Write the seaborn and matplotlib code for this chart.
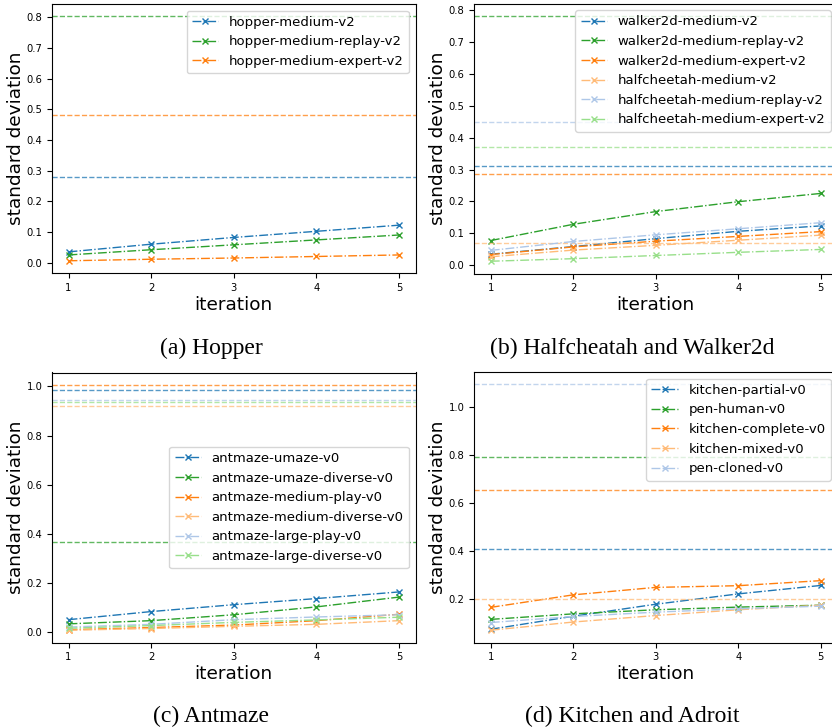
import matplotlib
matplotlib.use("Agg")
import matplotlib.pyplot as plt
import seaborn as sns

iterations = [1, 2, 3, 4, 5]

# (a) Hopper
hopper_names = ["hopper-medium-v2", "hopper-medium-replay-v2", "hopper-medium-expert-v2"]
hopper_curves = [
    [0.035, 0.060, 0.082, 0.102, 0.122],
    [0.025, 0.042, 0.058, 0.074, 0.090],
    [0.006, 0.011, 0.015, 0.020, 0.025],
]
hopper_refs = [0.280, 0.803, 0.480]

# (b) Halfcheetah and Walker2d
locomotion_names = [
    "walker2d-medium-v2", "walker2d-medium-replay-v2", "walker2d-medium-expert-v2",
    "halfcheetah-medium-v2", "halfcheetah-medium-replay-v2", "halfcheetah-medium-expert-v2",
]
locomotion_curves = [
    [0.034, 0.058, 0.083, 0.106, 0.123],
    [0.077, 0.128, 0.168, 0.199, 0.225],
    [0.033, 0.057, 0.075, 0.090, 0.105],
    [0.026, 0.047, 0.062, 0.078, 0.094],
    [0.046, 0.074, 0.095, 0.114, 0.133],
    [0.012, 0.020, 0.030, 0.040, 0.049],
]
locomotion_refs = [0.310, 0.783, 0.285, 0.070, 0.450, 0.370]

# (c) Antmaze
antmaze_names = [
    "antmaze-umaze-v0", "antmaze-umaze-diverse-v0", "antmaze-medium-play-v0",
    "antmaze-medium-diverse-v0", "antmaze-large-play-v0", "antmaze-large-diverse-v0",
]
antmaze_curves = [
    [0.050, 0.083, 0.111, 0.136, 0.163],
    [0.033, 0.046, 0.070, 0.102, 0.142],
    [0.009, 0.018, 0.028, 0.046, 0.072],
    [0.007, 0.014, 0.023, 0.031, 0.046],
    [0.020, 0.031, 0.050, 0.061, 0.070],
    [0.015, 0.026, 0.039, 0.049, 0.060],
]
antmaze_refs = [0.985, 0.366, 1.007, 0.919, 0.947, 0.935]

# (d) Kitchen and Adroit
kitchen_names = ["kitchen-partial-v0", "pen-human-v0", "kitchen-complete-v0",
                 "kitchen-mixed-v0", "pen-cloned-v0"]
kitchen_curves = [
    [0.076, 0.130, 0.180, 0.223, 0.258],
    [0.117, 0.140, 0.157, 0.168, 0.176],
    [0.167, 0.219, 0.250, 0.257, 0.278],
    [0.072, 0.106, 0.133, 0.157, 0.176],
    [0.104, 0.129, 0.147, 0.161, 0.172],
]
kitchen_refs = [0.408, 0.791, 0.656, 0.201, 1.094]

tab20 = sns.color_palette("tab20")
colors = [tab20[i] for i in [0, 4, 2, 3, 1, 5]]


def draw_panel(ax, names, curves, refs, legend_loc, yticks):
    for i, (name, vals, ref) in enumerate(zip(names, curves, refs)):
        c = colors[i]
        sns.lineplot(x=iterations, y=vals, ax=ax, color=c, marker="x",
                     linestyle="-.", linewidth=1.0, markersize=3.8,
                     markeredgewidth=1.0, markeredgecolor=c,
                     label=name, legend=False)
        ax.axhline(ref, color=c, linestyle="--", linewidth=1.0, alpha=0.75)
    ax.set_xticks(iterations)
    ax.set_yticks(yticks)
    ax.tick_params(labelsize=7.2)
    ax.set_xlabel("iteration", fontsize=13.3, labelpad=2)
    ax.set_ylabel("standard deviation", fontsize=13.3, labelpad=1)
    ax.legend(loc=legend_loc, fontsize=9.5)


fig = plt.figure(figsize=(8.32, 7.27), dpi=100)
W, H = 832.0, 727.0


def rect(left, top, width, height):
    return [left / W, 1 - (top + height) / H, width / W, height / H]


ax_a = fig.add_axes(rect(52, 4, 363.5, 269))
ax_b = fig.add_axes(rect(474.3, 3.5, 363, 270))
ax_c = fig.add_axes(rect(52, 372.5, 363.5, 270))
ax_d = fig.add_axes(rect(474.3, 372, 363, 270.5))

draw_panel(ax_a, hopper_names, hopper_curves, hopper_refs, "upper right",
           [0.0, 0.1, 0.2, 0.3, 0.4, 0.5, 0.6, 0.7, 0.8])
draw_panel(ax_b, locomotion_names, locomotion_curves, locomotion_refs, "upper right",
           [0.0, 0.1, 0.2, 0.3, 0.4, 0.5, 0.6, 0.7, 0.8])
draw_panel(ax_c, antmaze_names, antmaze_curves, antmaze_refs, "center right",
           [0.0, 0.2, 0.4, 0.6, 0.8, 1.0])
draw_panel(ax_d, kitchen_names, kitchen_curves, kitchen_refs, "upper right",
           [0.2, 0.4, 0.6, 0.8, 1.0])

captions = ["(a) Hopper", "(b) Halfcheatah and Walker2d", "(c) Antmaze", "(d) Kitchen and Adroit"]
caption_xy = [(211, 348), (632, 348), (211, 716), (632, 716)]
for text, (cx, cy) in zip(captions, caption_xy):
    fig.text(cx / W, 1 - cy / H, text, ha="center", va="center",
             family="Liberation Serif", fontsize=17)

fig.savefig("out.png", dpi=100)
